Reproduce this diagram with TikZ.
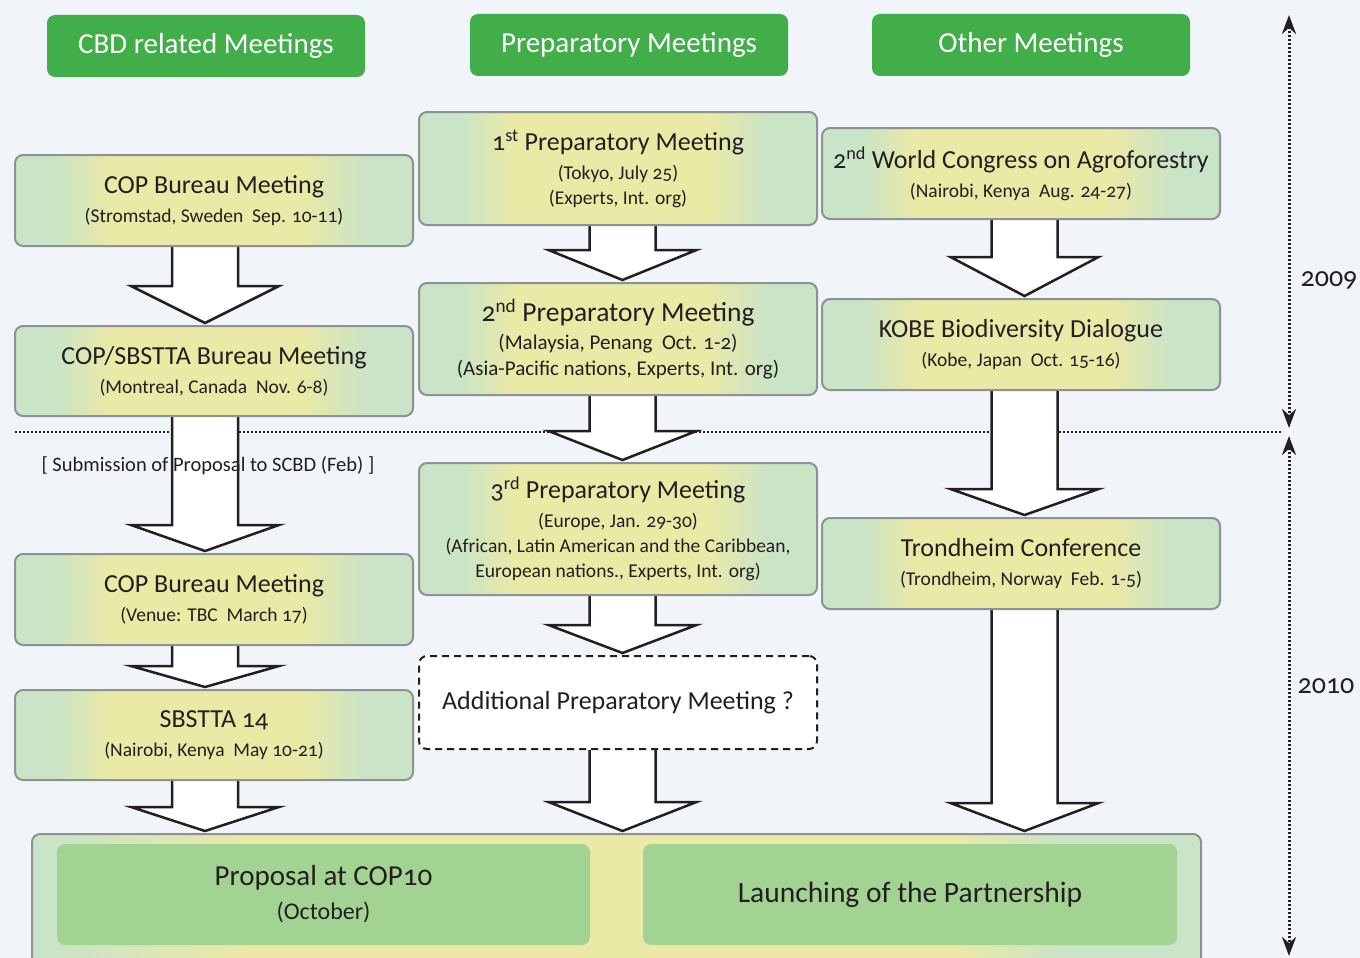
\documentclass[tikz,border=0pt]{standalone}
\usepackage{fontspec}
\setmainfont{Carlito}[Numbers=OldStyle]
\usetikzlibrary{arrows.meta,calc}

\definecolor{pagebg}{HTML}{F1F5FA}
\definecolor{headgreen}{HTML}{42AE4A}
\definecolor{boxgreen}{HTML}{C9E4C6}
\definecolor{boxyellow}{HTML}{EBE9A6}
\definecolor{boxline}{HTML}{8C9393}
\definecolor{goalgreen}{HTML}{A3D392}
\definecolor{ink}{HTML}{231F20}

\pgfdeclarehorizontalshading{meetshade}{100bp}{color(0bp)=(boxgreen); color(30bp)=(boxgreen); color(37bp)=(boxyellow); color(61bp)=(boxyellow); color(69bp)=(boxgreen); color(100bp)=(boxgreen)}
\pgfdeclarehorizontalshading{goalshade}{100bp}{color(0bp)=(boxgreen); color(26bp)=(boxgreen); color(34.5bp)=(boxyellow); color(64.5bp)=(boxyellow); color(69bp)=(boxgreen); color(100bp)=(boxgreen)}

\pgfdeclarelayer{back}
\pgfdeclarelayer{arrowlayer}
\pgfsetlayers{back,arrowlayer,main}

\newcommand{\ttl}[1]{{\fontsize{26}{26}\selectfont #1}}
\newcommand{\sub}{\fontsize{19.5}{25}\selectfont}
% block arrow: [xshift]{from}{to}{head height}
\newcommand{\bigarrow}[4][0pt]{%
  \draw[blockarrow] let \p1=($(#2.south)+(#1,0)$), \p2=(#3.north) in
    (\x1-33pt,\y1) -- (\x1-33pt,\y2+#4+2pt) -- (\x1-74pt,\y2+#4+2pt) -- (\x1,\y2+2pt)
    -- (\x1+74pt,\y2+#4+2pt) -- (\x1+33pt,\y2+#4+2pt) -- (\x1+33pt,\y1);}

\begin{document}
\begin{tikzpicture}[x=1pt,y=-1pt,
  head/.style={fill=headgreen, rounded corners=8pt, text=white,
    font=\fontsize{29}{30}\selectfont, minimum width=318pt, minimum height=62pt},
  meet/.style={draw=boxline, line width=2pt, rounded corners=8pt, shading=meetshade,
    minimum width=398pt, minimum height=91pt, inner sep=0pt, align=center,
    text=ink, font=\sub},
  maybe/.style={draw=ink, line width=2pt, rounded corners=8pt, fill=white,
    dash pattern=on 7pt off 5pt, minimum width=398pt, minimum height=93pt,
    text=ink, font=\fontsize{26}{26}\selectfont},
  goalbox/.style={fill=goalgreen, rounded corners=8pt, minimum width=533pt,
    minimum height=101pt, align=center, text=ink, font=\fontsize{24}{34}\selectfont},
  blockarrow/.style={draw=ink, line width=2.5pt, fill=white, line join=miter},
  yearline/.style={draw=ink, line width=3pt, dash pattern=on 2.5pt off 1.5pt,
    {Stealth[length=19pt,width=14pt]}-{Stealth[length=19pt,width=14pt]}},
  split/.style={draw=ink, line width=2pt, dash pattern=on 2pt off 2pt}]
\clip (0,0) rectangle (1360,958);

\begin{pgfonlayer}{back}
\fill[pagebg] (0,0) rectangle (1360,958);
\draw[split] (15,432) -- (1283,432);
\end{pgfonlayer}

% column headers
\node[head] (hcbd) at (206,46) {CBD related Meetings};
\node[head] (hprep) at (629,45) {Preparatory Meetings};
\node[head] (hother) at (1031,45) {Other Meetings};

% CBD related
\node[meet] (cop1) at (214,200.5) {\ttl{COP Bureau Meeting}\\[4pt](Stromstad, Sweden\ \ Sep. 10-11)};
\node[meet, minimum height=90pt] (copsb) at (214,371) {\ttl{COP/SBSTTA Bureau Meeting}\\[4pt](Montreal, Canada\ \ Nov. 6-8)};
\node[meet] (cop2) at (214,599.5) {\ttl{COP Bureau Meeting}\\[4pt](Venue: TBC\ \ March 17)};
\node[meet, minimum height=90pt] (sbstta) at (214,735) {\ttl{SBSTTA 14}\\[4pt](Nairobi, Kenya\ \ May 10-21)};

% preparatory
\node[meet, minimum height=113pt] (prep1) at (618,168.5) {\ttl{1\textsuperscript{st} Preparatory Meeting}\\[4pt](Tokyo, July 25)\\(Experts, Int. org)};
\node[meet, minimum height=112pt, font=\fontsize{21}{25.5}\selectfont] (prep2) at (618,339) {{\fontsize{27.5}{27.5}\selectfont 2\textsuperscript{nd} Preparatory Meeting}\\[3pt](Malaysia, Penang\ \ Oct. 1-2)\\(Asia-Pacific nations, Experts, Int. org)};
\node[meet, minimum height=132pt] (prep3) at (618,529) {\ttl{3\textsuperscript{rd} Preparatory Meeting}\\[4pt](Europe, Jan. 29-30)\\(African, Latin American and the Caribbean,\\European nations., Experts, Int. org)};
\node[maybe] (prepx) at (618,702.5) {Additional Preparatory Meeting ?};

% other meetings
\node[meet] (congress) at (1021,173.5) {\ttl{2\textsuperscript{nd} World Congress on Agroforestry}\\[4pt](Nairobi, Kenya\ \ Aug. 24-27)};
\node[meet] (kobe) at (1021,344.5) {\ttl{KOBE Biodiversity Dialogue}\\[4pt](Kobe, Japan\ \ Oct. 15-16)};
\node[meet] (trond) at (1021,563.5) {\ttl{Trondheim Conference}\\[4pt](Trondheim, Norway\ \ Feb. 1-5)};

% outcome
\node[draw=boxline, line width=2pt, rounded corners=8pt, shading=goalshade,
  minimum width=1169pt, minimum height=156pt] (goal) at (616.5,912) {};
\node[goalbox] (cop10) at (323.5,894.5) {{\fontsize{29}{29}\selectfont Proposal at COP10}\\(October)};
\node[goalbox, minimum width=534pt, font=\fontsize{29.5}{30}\selectfont] (launch) at (910,894.5) {Launching of the Partnership};

\begin{pgfonlayer}{arrowlayer}
\bigarrow[-9pt]{cop1}{copsb}{37pt}
\bigarrow[-9pt]{copsb}{cop2}{26pt}
\bigarrow[-9pt]{cop2}{sbstta}{21pt}
\bigarrow[-9pt]{sbstta}{goal}{24pt}
\bigarrow[4.5pt]{prep1}{prep2}{30pt}
\bigarrow[4.5pt]{prep2}{prep3}{29pt}
\bigarrow[4.5pt]{prep3}{prepx}{28pt}
\bigarrow[4.5pt]{prepx}{goal}{29pt}
\bigarrow[3.5pt]{congress}{kobe}{39pt}
\bigarrow[3.5pt]{kobe}{trond}{26pt}
\bigarrow[3.5pt]{trond}{goal}{28pt}
\end{pgfonlayer}

\node[text=ink, font=\fontsize{20.5}{20.5}\selectfont] (submit) at (208,466) {[ Submission of Proposal to SCBD (Feb) ]};

% years
\coordinate (y9a) at (1289,15);
\coordinate (y9b) at (1289,428);
\coordinate (y10a) at (1289,436);
\coordinate (y10b) at (1289,956);
\draw[yearline] (y9a) -- (y9b);
\draw[yearline] (y10a) -- (y10b);
\node[text=ink, font=\fontsize{28}{28}\selectfont] (y2009) at (1329,280) {2009};
\node[text=ink, font=\fontsize{28}{28}\selectfont] (y2010) at (1326,686) {2010};
\end{tikzpicture}
\end{document}
